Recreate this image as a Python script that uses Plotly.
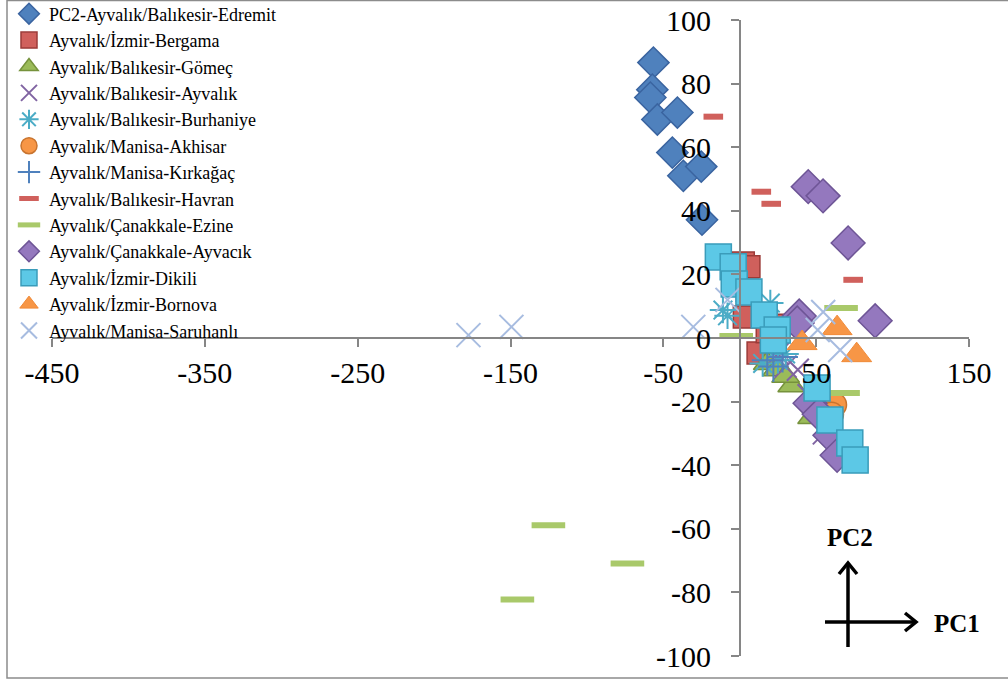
import plotly.graph_objects as go

# PCA scores (PC1, PC2) per comparison group
edremit_pc1 = [-56.5, -57.2, -58.5, -53.9, -40.8, -44.1, -36.9, -25.2, -24.7]
edremit_pc2 = [86.6, 78.1, 75.6, 68.7, 70.9, 58.3, 51.0, 53.9, 37.2]

bergama_pc1 = [2.3, 6.0, 5.0, 3.0, 12.0, 25.0, 18.0]
bergama_pc2 = [23.6, 22.4, 15.0, 6.6, -4.7, 4.0, 2.0]

gomec_pc1 = [18.0, 24.0, 34.0, 47.0, 50.0, 30.0]
gomec_pc2 = [-8.0, -10.0, -15.0, -25.0, -22.0, -12.0]

ayvalik_pc1 = [25.0, 38.0, 45.0, 55.0, 30.0]
ayvalik_pc2 = [-5.0, -10.0, -18.0, -30.0, -9.0]

burhaniye_pc1 = [-11.0, -8.0, 20.0, 15.0, 25.0, 30.0]
burhaniye_pc2 = [8.8, 7.0, 11.0, -8.0, -7.0, -5.0]

akhisar_pc1 = [62.0, 60.0]
akhisar_pc2 = [-21.0, -24.0]

kirkagac_pc1 = [18.0, 22.0, 28.0]
kirkagac_pc2 = [-7.0, -9.0, -6.0]

havran_pc1 = [-17.3, 14.1, 20.6, 74.2]
havran_pc2 = [69.6, 46.0, 42.2, 18.3]

ezine_pc1 = [-125.2, -73.5, -145.5, -2.3, 66.3, 67.6]
ezine_pc2 = [-58.9, -70.9, -82.2, 0.6, 9.4, -17.3]

ayvacik_pc1 = [44.8, 54.5, 70.9, 88.6, 38.9, 37.6, 46.0, 52.0, 59.0, 63.7]
ayvacik_pc2 = [47.6, 44.7, 29.9, 5.4, 6.9, 4.7, -20.5, -24.0, -30.6, -36.9]

dikili_pc1 = [-14.0, -4.3, -3.6, 6.0, 16.0, 24.5, 22.0, 50.6, 59.0, 72.0, 75.5]
dikili_pc2 = [25.5, 22.4, 17.0, 14.5, 7.2, 2.5, -0.6, -15.7, -25.8, -33.0, -38.4]

bornova_pc1 = [40.8, 63.7, 76.5]
bornova_pc2 = [-1.6, 3.1, -5.4]

saruhanli_pc1 = [-177.5, -149.4, -30.4, 54.6, 51.0, 65.7, -8.0]
saruhanli_pc2 = [0.9, 3.5, 3.5, 8.2, 2.5, -3.8, 12.0]

x_ticks = [-450, -350, -250, -150, -50, 50, 150]
y_ticks = [-100, -80, -60, -40, -20, 0, 20, 40, 60, 80, 100]

SERIF = "Times New Roman"

series = [
    ("PC2-Ayvalık/Balıkesir-Edremit", edremit_pc1, edremit_pc2,
     dict(symbol="diamond", size=24, color="#4F81BD", line=dict(color="#3A64A0", width=1.5))),
    ("Ayvalık/İzmir-Bergama", bergama_pc1, bergama_pc2,
     dict(symbol="square", size=22, color="#D0605C", line=dict(color="#9C3B38", width=1.5))),
    ("Ayvalık/Balıkesir-Gömeç", gomec_pc1, gomec_pc2,
     dict(symbol="triangle-up", size=24, color="#9BBB59", line=dict(color="#76923C", width=1.5))),
    ("Ayvalık/Balıkesir-Ayvalık", ayvalik_pc1, ayvalik_pc2,
     dict(symbol="x-thin-open", size=22, color="#8064A2", line=dict(color="#8064A2", width=2))),
    ("Ayvalık/Balıkesir-Burhaniye", burhaniye_pc1, burhaniye_pc2,
     dict(symbol="asterisk-open", size=22, color="#4BACC6", line=dict(color="#3E9DB6", width=2))),
    ("Ayvalık/Manisa-Akhisar", akhisar_pc1, akhisar_pc2,
     dict(symbol="circle", size=24, color="#F79646", line=dict(color="#C8742F", width=1.5))),
    ("Ayvalık/Manisa-Kırkağaç", kirkagac_pc1, kirkagac_pc2,
     dict(symbol="cross-thin-open", size=22, color="#4F81BD", line=dict(color="#4F81BD", width=2))),
    ("Ayvalık/Balıkesir-Havran", havran_pc1, havran_pc2,
     dict(symbol="line-ew-open", size=14, color="#D0605C", line=dict(color="#D0605C", width=6))),
    ("Ayvalık/Çanakkale-Ezine", ezine_pc1, ezine_pc2,
     dict(symbol="line-ew-open", size=24, color="#A9C96A", line=dict(color="#A9C96A", width=6))),
    ("Ayvalık/Çanakkale-Ayvacık", ayvacik_pc1, ayvacik_pc2,
     dict(symbol="diamond", size=26, color="#9478BE", line=dict(color="#6E5596", width=1.5))),
    ("Ayvalık/İzmir-Dikili", dikili_pc1, dikili_pc2,
     dict(symbol="square", size=26, color="#5CC8E6", line=dict(color="#3A9CBA", width=1.5))),
    ("Ayvalık/İzmir-Bornova", bornova_pc1, bornova_pc2,
     dict(symbol="triangle-up", size=26, color="#F79646", line=dict(color="#F08A38", width=1))),
    ("Ayvalık/Manisa-Saruhanlı", saruhanli_pc1, saruhanli_pc2,
     dict(symbol="x-thin-open", size=24, color="#A7BCE0", line=dict(color="#A7BCE0", width=2))),
]

fig = go.Figure()
for name, xs, ys, marker in series:
    fig.add_trace(go.Scatter(x=xs, y=ys, mode="markers", name=name, marker=marker))

# plot area in pixels: left 52, right 969, top 20, bottom 656
W, H = 1008, 684
L, R, T, B = 52, 969, 20, 656


def px(xp):
    return (xp - L) / (R - L)


def py(yp):
    return (B - yp) / (B - T)


axis_col = "#868686"
tick_font = dict(family=SERIF, size=30, color="black")
fig.update_layout(
    width=W, height=H,
    margin=dict(l=L, r=W - R, t=T, b=H - B, autoexpand=False),
    paper_bgcolor="white", plot_bgcolor="white",
    font=dict(family=SERIF, color="black"),
    xaxis=dict(
        range=[-450, 150], anchor="free", position=0.5,
        tickmode="array", tickvals=x_ticks, ticktext=[str(v) for v in x_ticks],
        showgrid=False, zeroline=False, showline=True, linecolor=axis_col, linewidth=1.5,
        ticks="outside", ticklen=8, tickwidth=1.5, tickcolor=axis_col,
        tickfont=tick_font,
    ),
    yaxis=dict(
        range=[-100, 100], anchor="free", position=0.75,
        tickmode="array", tickvals=y_ticks, ticktext=[str(v) for v in y_ticks],
        showgrid=False, zeroline=False, showline=True, linecolor=axis_col, linewidth=1.5,
        ticks="outside", ticklen=8, tickwidth=1.5, tickcolor=axis_col,
        ticklabelstandoff=14,
        tickfont=tick_font,
    ),
    legend=dict(
        x=px(9), y=py(-4.5), xanchor="left", yanchor="top",
        bgcolor="rgba(0,0,0,0)", borderwidth=0,
        font=dict(family=SERIF, size=18, color="black"),
        tracegroupgap=0, maxheight=420,
    ),
    showlegend=True,
)

# outer chart frame
fig.add_shape(type="rect", xref="paper", yref="paper",
              x0=px(7), x1=px(1012), y0=py(678), y1=py(0.5),
              line=dict(color="#8C8C8C", width=1.5), fillcolor="rgba(0,0,0,0)", layer="below")

# PC1 / PC2 direction key
key = dict(color="black", width=3.5)
fig.add_shape(type="line", xref="paper", yref="paper",
              x0=px(848), x1=px(848), y0=py(647), y1=py(563), line=key)
fig.add_shape(type="path", xref="paper", yref="paper",
              path=f"M {px(839)} {py(574)} L {px(848)} {py(563)} L {px(857)} {py(574)}", line=key)
fig.add_shape(type="line", xref="paper", yref="paper",
              x0=px(825), x1=px(916), y0=py(622), y1=py(622), line=key)
fig.add_shape(type="path", xref="paper", yref="paper",
              path=f"M {px(905)} {py(613)} L {px(916)} {py(622)} L {px(905)} {py(631)}", line=key)
fig.add_annotation(xref="paper", yref="paper", x=px(850), y=py(537), text="<b>PC2</b>",
                   xanchor="center", yanchor="middle",
                   showarrow=False, font=dict(family=SERIF, size=25, color="black"))
fig.add_annotation(xref="paper", yref="paper", x=px(957), y=py(623), text="<b>PC1</b>",
                   xanchor="center", yanchor="middle",
                   showarrow=False, font=dict(family=SERIF, size=25, color="black"))

fig.write_html("out.html")
